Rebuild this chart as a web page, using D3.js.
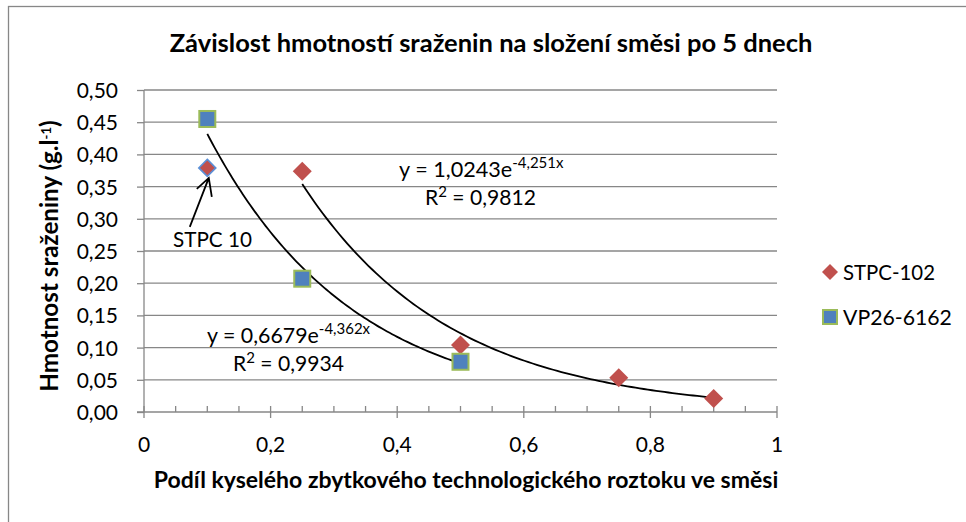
<!DOCTYPE html>
<html>
<head>
<meta charset="utf-8">
<script src="https://cdn.jsdelivr.net/npm/d3@7"></script>
<style>
  body { margin: 0; background: #fff; }
  text { font-family: Lato, "Open Sans", sans-serif; fill: #000; }
</style>
</head>
<body>
<div id="chart"></div>
<script>
// data
const xTicks = [0, 0.2, 0.4, 0.6, 0.8, 1];
const yTicks = [0, 0.05, 0.1, 0.15, 0.2, 0.25, 0.3, 0.35, 0.4, 0.45, 0.5];
const stpcX = [0.25, 0.5, 0.75, 0.9];
const stpcY = [0.374, 0.104, 0.053, 0.021];
const vpX = [0.1, 0.25, 0.5];
const vpY = [0.455, 0.207, 0.078];
const stpc10 = [0.1, 0.379];
// trend lines  y = a*e^(b x), drawn over the fitted range
const stpcFit = [1.0243, -4.251, 0.25, 0.9];
const vpFit = [0.6679, -4.362, 0.1, 0.5];
const seriesNames = ["STPC-102", "VP26-6162"];

const W = 966, H = 522;
const red = "#C0504D", blue = "#4F81BD", green = "#9BBB59", grey = "#878787";

const svg = d3.select("#chart").append("svg")
    .attr("width", W).attr("height", H);

// outer chart frame (cut off by the picture on the right and bottom)
svg.append("rect")
    .attr("x", 8.5).attr("y", 6.5)
    .attr("width", 1000).attr("height", 600)
    .attr("fill", "#fff").attr("stroke", grey).attr("stroke-width", 1.3);

const x = d3.scaleLinear().domain([0, 1]).range([144, 777]);
const y = d3.scaleLinear().domain([0, 0.5]).range([412, 90]);

// shrink/grow a text so it spans a given width
function fit(sel, w) {
    const n = sel.node();
    const fs = parseFloat(sel.attr("font-size"));
    sel.attr("font-size", fs * w / n.getComputedTextLength());
    return sel;
}

// gridlines
svg.append("g").selectAll("line")
    .data(yTicks.slice(1))
    .enter().append("line")
    .attr("x1", x(0)).attr("x2", x(1))
    .attr("y1", d => y(d)).attr("y2", d => y(d))
    .attr("stroke", grey).attr("stroke-width", 1.3);

// y axis
const yAxis = d3.axisLeft(y).tickValues(yTicks).tickSize(7).tickPadding(0)
    .tickFormat(d => d3.format(".2f")(d).replace(".", ","));
const gy = svg.append("g").attr("transform", `translate(${x(0)},0)`).call(yAxis);
gy.selectAll("path, line").attr("stroke", grey).attr("stroke-width", 1.3);
gy.select(".domain").attr("d", `M0,${y(0.5)}V${y(0)}`);
gy.selectAll("text").attr("font-size", 21).attr("x", -26).attr("dy", "0.36em")
    .style("font-family", "Lato").attr("fill", "#000");

// x axis: major ticks cross the line, minor ticks inside
const gx = svg.append("g").attr("transform", `translate(0,${y(0)})`);
gx.append("line").attr("x1", x(0) - 7).attr("x2", x(1))
    .attr("stroke", grey).attr("stroke-width", 1.3);
gx.selectAll(".minor").data(d3.range(1, 20).map(i => i / 20).filter(v => Math.round(v * 20) % 4 !== 0))
    .enter().append("line").attr("class", "minor")
    .attr("x1", d => x(d)).attr("x2", d => x(d)).attr("y1", -6).attr("y2", 0)
    .attr("stroke", grey).attr("stroke-width", 1.3);
gx.selectAll(".major").data(xTicks)
    .enter().append("line").attr("class", "major")
    .attr("x1", d => x(d)).attr("x2", d => x(d)).attr("y1", -6).attr("y2", 6)
    .attr("stroke", grey).attr("stroke-width", 1.3);
gx.selectAll(".xl").data(xTicks)
    .enter().append("text").attr("class", "xl")
    .attr("x", d => x(d)).attr("y", 40)
    .attr("text-anchor", "middle").attr("font-size", 21)
    .text(d => String(d).replace(".", ","));

// trend lines
function trend(f) {
    const pts = d3.range(0, 101).map(i => {
        const v = f[2] + (f[3] - f[2]) * i / 100;
        return [x(v), y(f[0] * Math.exp(f[1] * v))];
    });
    svg.append("path").attr("d", d3.line()(pts))
        .attr("fill", "none").attr("stroke", "#000").attr("stroke-width", 1.8);
}
trend(vpFit);
trend(stpcFit);

const diamond = r => `M0,${-r}L${r},0L0,${r}L${-r},0Z`;

// STPC-102 points
svg.append("g").selectAll("path")
    .data(stpcX.map((v, i) => [v, stpcY[i]]))
    .enter().append("path")
    .attr("d", diamond(9.5))
    .attr("transform", d => `translate(${x(d[0])},${y(d[1])})`)
    .attr("fill", red);

// STPC 10 point (outlined in blue)
svg.append("path").attr("d", diamond(8.5))
    .attr("transform", `translate(${x(stpc10[0])},${y(stpc10[1])})`)
    .attr("fill", red).attr("stroke", "#5B8FD6").attr("stroke-width", 1.6);

// VP26-6162 points
svg.append("g").selectAll("rect")
    .data(vpX.map((v, i) => [v, vpY[i]]))
    .enter().append("rect")
    .attr("x", d => x(d[0]) - 8).attr("y", d => y(d[1]) - 8)
    .attr("width", 16).attr("height", 16)
    .attr("fill", blue).attr("stroke", green).attr("stroke-width", 2);

// arrow to STPC 10
const tx = x(stpc10[0]) + 1.5, ty = y(stpc10[1]) + 10;
svg.append("path")
    .attr("d", `M${tx - 19},${ty + 49}L${tx},${ty}M${tx - 12},${ty + 11}L${tx},${ty}L${tx + 3},${ty + 19}`)
    .attr("fill", "none").attr("stroke", "#000").attr("stroke-width", 1.8);
fit(svg.append("text").attr("x", 173).attr("y", 247).attr("font-size", 21).text("STPC 10"), 79);

// equations
function equation(px, py, a, b, r2, w1, w2) {
    const t = svg.append("text").attr("x", px).attr("y", py).attr("font-size", 21);
    t.append("tspan").text(`y = ${a}e`);
    t.append("tspan").attr("dy", -9).attr("font-size", 15).text(b + "x");
    fit(t, w1);
    const r = svg.append("text").attr("x", px + 26).attr("y", py + 28).attr("font-size", 21);
    r.append("tspan").text("R");
    r.append("tspan").attr("dy", -8).attr("font-size", 15).text("2");
    r.append("tspan").attr("dy", 8).text(" = " + r2);
    fit(r, w2);
}
equation(399, 177, "1,0243", "-4,251", "0,9812", 166, 111);
equation(207, 343, "0,6679", "-4,362", "0,9934", 164, 111);

// title
fit(svg.append("text").attr("x", 491).attr("y", 52).attr("text-anchor", "middle")
    .attr("font-size", 22).attr("font-weight", "bold")
    .text("Závislost hmotností sraženin na složení směsi po 5 dnech"), 643);

// axis titles
fit(svg.append("text").attr("x", 466).attr("y", 488).attr("text-anchor", "middle")
    .attr("font-size", 21).attr("font-weight", "bold")
    .text("Podíl kyselého zbytkového technologického roztoku ve směsi"), 625);

const yt = svg.append("text").attr("text-anchor", "middle")
    .attr("transform", "translate(58,256) rotate(-90)")
    .attr("font-size", 20).attr("font-weight", "bold");
yt.append("tspan").text("Hmotnost sraženiny (g.l");
yt.append("tspan").attr("dy", -7).attr("font-size", 13).text("-1");
yt.append("tspan").attr("dy", 7).text(")");
fit(yt, 274);

// legend
const leg = svg.append("g");
seriesNames.forEach((name, i) => {
    const ly = 272 + i * 45;
    if (i === 0) {
        leg.append("path").attr("d", diamond(8)).attr("transform", `translate(830,${ly})`).attr("fill", red);
    } else {
        leg.append("rect").attr("x", 823).attr("y", ly - 7).attr("width", 14).attr("height", 14)
            .attr("fill", blue).attr("stroke", green).attr("stroke-width", 2);
    }
    fit(leg.append("text").attr("x", 843).attr("y", ly + 8).attr("font-size", 21).text(name), i === 0 ? 92 : 109);
});
</script>
</body>
</html>
